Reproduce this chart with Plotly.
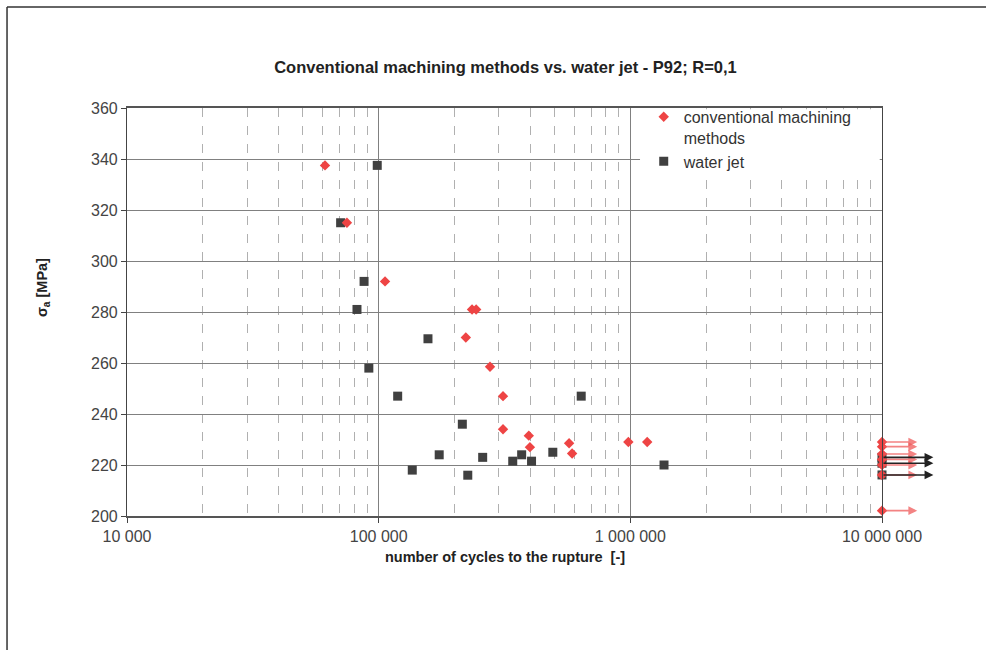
import numpy as np
import plotly.graph_objects as go

# ---------------- data ----------------
conv_cycles = [61200, 74800, 106000, 235000, 244000, 222000, 277000, 312000,
               312000, 395000, 399000, 571000, 587000, 982000, 1167000]
conv_stress = [337.5, 315, 292, 281, 281, 270, 258.5, 247,
               234, 231.5, 227, 228.5, 224.5, 229, 229]

wj_cycles = [98700, 70600, 87500, 82000, 157000, 91400, 119000, 215000, 174000,
             136000, 226000, 259000, 341000, 370000, 405000, 492000, 638000, 1361000]
wj_stress = [337.5, 315, 292, 281, 269.5, 258, 247, 236, 224,
             218, 216, 223, 221.5, 224, 221.5, 225, 247, 220]

# run-outs (not broken at 10 000 000 cycles)
runout_cycles = 10_000_000
conv_runout_stress = [229, 227.2, 224.3, 222.2, 220, 216.1, 202.1]
wj_runout_stress = [223, 220.7, 216.1]

x_tickvals = [1e4, 1e5, 1e6, 1e7]
x_ticktext = ["10 000", "100 000", "1 000 000", "10 000 000"]
y_tickvals = [200, 220, 240, 260, 280, 300, 320, 340, 360]

RED = "#EE4444"
DARK = "#404040"
FONT = "Liberation Sans, Arial, sans-serif"

fig = go.Figure()

fig.add_trace(go.Scatter(
    x=wj_cycles + [runout_cycles] * len(wj_runout_stress),
    y=wj_stress + wj_runout_stress,
    mode="markers", name="water jet", legendrank=2,
    marker=dict(symbol="square", size=9, color=DARK, line=dict(width=0)),
    cliponaxis=False,
))
fig.add_trace(go.Scatter(
    x=conv_cycles + [runout_cycles] * len(conv_runout_stress),
    y=conv_stress + conv_runout_stress,
    mode="markers", name="conventional machining<br>methods", legendrank=1,
    marker=dict(symbol="diamond", size=8, color=RED, line=dict(width=0)),
    cliponaxis=False,
))

annotations = []
for s in conv_runout_stress:
    annotations.append(dict(
        x=np.log10(runout_cycles * 1.38), y=s, ax=np.log10(runout_cycles), ay=s,
        xref="x", yref="y", axref="x", ayref="y", text="", showarrow=True,
        arrowhead=2, arrowsize=1.1, arrowwidth=1.6, arrowcolor="rgba(240,90,90,0.75)"))
for s in wj_runout_stress:
    annotations.append(dict(
        x=np.log10(runout_cycles * 1.6), y=s, ax=np.log10(runout_cycles), ay=s,
        xref="x", yref="y", axref="x", ayref="y", text="", showarrow=True,
        arrowhead=2, arrowsize=1.1, arrowwidth=1.6, arrowcolor="#222222"))

# axis titles as positioned text
annotations.append(dict(
    text="<b>number of cycles to the rupture  [-]</b>", xref="paper", yref="paper",
    x=0.5013, y=-0.1005, showarrow=False, xanchor="center", yanchor="middle",
    font=dict(size=14.5, color="#222222")))
annotations.append(dict(
    text="<b>σ<sub>a</sub> [MPa]</b>", xref="paper", yref="paper",
    x=-0.111, y=0.559, showarrow=False, xanchor="center", yanchor="middle",
    textangle=-90, font=dict(size=14.5, color="#222222")))

shapes = [
    # white legend box covering grid
    dict(type="rect", xref="paper", yref="paper", x0=0.6795, x1=0.997, y0=0.8235, y1=0.997,
         fillcolor="white", line=dict(width=0), layer="above"),
    # outer frame (top + left)
    dict(type="line", xref="paper", yref="paper", x0=-0.1589, x1=1.14, y0=1.2475, y1=1.2475,
         line=dict(color="#333333", width=1.5)),
    dict(type="line", xref="paper", yref="paper", x0=-0.1589, x1=-0.1589, y0=-0.33, y1=1.2475,
         line=dict(color="#333333", width=1.5)),
]

fig.update_layout(
    width=986, height=650,
    margin=dict(l=127, r=104, t=108, b=134),
    paper_bgcolor="white", plot_bgcolor="white",
    font=dict(family=FONT, color="#333333"),
    title=dict(text="<b>Conventional machining methods vs. water jet - P92; R=0,1</b>",
               x=0.5013, xref="paper", y=1 - 67 / 650, yref="container", yanchor="middle",
               font=dict(size=16.5, color="#222222")),
    showlegend=True,
    legend=dict(x=0.6844, y=1.02, xanchor="left", yanchor="top",
                bgcolor="rgba(0,0,0,0)", font=dict(size=16, color="#333333"),
                valign="top", tracegroupgap=0, itemsizing="trace", itemwidth=30),
    annotations=annotations,
    shapes=shapes,
)

fig.update_xaxes(
    type="log", range=[4, 7],
    tickmode="array", tickvals=x_tickvals, ticktext=x_ticktext,
    ticks="outside", ticklen=5, tickcolor="#444444",
    tickfont=dict(size=16, color="#444444"),
    showgrid=True, gridcolor="#808080", gridwidth=1,
    minor=dict(dtick="D1", showgrid=True, gridcolor="#b0b0b0", griddash="dash",
               gridwidth=1, ticks=""),
    showline=True, linecolor="#555555", linewidth=1.5, mirror=True,
    zeroline=False,
)
fig.update_yaxes(
    range=[200, 360], tickmode="array", tickvals=y_tickvals,
    ticks="outside", ticklen=5, tickcolor="#444444",
    tickfont=dict(size=16, color="#444444"),
    showgrid=True, gridcolor="#808080", gridwidth=1,
    showline=True, linecolor="#444444", linewidth=1.2, mirror=True,
    zeroline=False,
)

fig.write_html("out.html")
